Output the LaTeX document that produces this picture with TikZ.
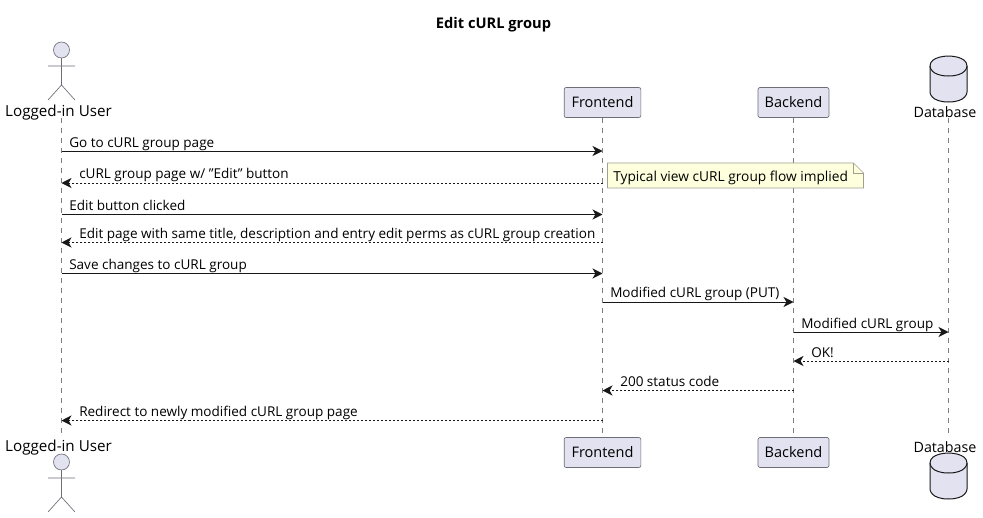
\documentclass[tikz,border=0pt]{standalone}
\usepackage{fontspec}
\setmainfont{Open Sans}
\usetikzlibrary{arrows.meta}
\definecolor{partfill}{HTML}{E2E2F0}
\definecolor{partline}{HTML}{6E6E78}
\definecolor{notefill}{HTML}{FEFFDD}
\definecolor{noteline}{HTML}{A0A090}
\definecolor{inkline}{HTML}{181818}
\tikzset{
  x=0.75pt,y=-0.75pt,
  lifeline/.style={draw=partline!90,line width=0.6pt,dash pattern=on 3.75pt off 3.75pt},
  actorbody/.style={draw=partline,line width=0.5pt},
  actorhead/.style={draw=partline,fill=partfill,line width=0.5pt},
  dbshape/.style={draw=inkline,fill=partfill,line width=0.75pt},
  partbox/.style={draw=partline,fill=partfill,rounded corners=1.5pt,line width=0.5pt,minimum width=#1,minimum height=22.5pt,inner sep=0pt,font=\fontsize{10.9}{13}\selectfont},
  partname/.style={inner sep=0pt,font=\fontsize{11.4}{13}\selectfont},
  dbname/.style={inner sep=0pt,font=\fontsize{10.7}{13}\selectfont},
  sync/.style={draw=inkline,line width=0.75pt,-{Stealth[length=7.5pt,width=7.5pt,inset=2.2pt]}},
  reply/.style={draw=inkline,line width=0.6pt,dash pattern=on 1.5pt off 1.5pt,-{Stealth[length=7.5pt,width=7.5pt,inset=2.2pt,line width=0.6pt]}},
  msglabel/.style={anchor=base west,inner sep=0pt,font=\fontsize{10.15}{12}\selectfont},
}
\begin{document}
\begin{tikzpicture}
\useasboundingbox[fill=white] (0,0) rectangle (983,518);
\node[inner sep=0pt,font=\fontsize{11}{13}\selectfont\bfseries] (title) at (493.5,25) {Edit cURL group};

% participants, top and bottom
\node[partname] (userT) at (58.5,112.5) {Logged-in User};
\node[partname] (userB) at (58.5,447.5) {Logged-in User};
\node[partbox=57.5pt] (frontT) at (602.5,102.5) {Frontend};
\node[partbox=57.5pt] (frontB) at (602.5,452.5) {Frontend};
\node[partbox=53.25pt] (backT) at (793.5,102.5) {Backend};
\node[partbox=53.25pt] (backB) at (793.5,452.5) {Backend};
\node[dbname] (dbT) at (945,112) {Database};
\node[dbname] (dbB) at (945,447) {Database};

% lifeline anchors
\coordinate (uTop) at (61.5,118); \coordinate (uBot) at (61.5,435);
\coordinate (fTop) at (602.5,118); \coordinate (fBot) at (602.5,437);
\coordinate (bTop) at (793.5,118); \coordinate (bBot) at (793.5,437);
\coordinate (dTop) at (948.5,118); \coordinate (dBot) at (948.5,435);

\draw[lifeline] (uTop) -- (uBot);
\draw[lifeline] (fTop) -- (fBot);
\draw[lifeline] (bTop) -- (bBot);
\draw[lifeline] (dTop) -- (dBot);

% actors
\foreach \cy in {50,462}{
  \draw[actorhead] (61.5,\cy) circle (8);
  \draw[actorbody] (61.5,\cy+8) -- (61.5,\cy+35) (48,\cy+16) -- (75,\cy+16)
    (48,\cy+50) -- (61.5,\cy+35) -- (75,\cy+50);
}

% databases
\foreach \ty in {56,453}{
  \draw[dbshape] (930,\ty+10) .. controls (930,\ty) and (948.5,\ty) .. (948.5,\ty)
    .. controls (948.5,\ty) and (967,\ty) .. (967,\ty+10)
    -- (967,\ty+36) .. controls (967,\ty+36) and (967,\ty+46) .. (948.5,\ty+46)
    .. controls (930,\ty+46) and (930,\ty+36) .. (930,\ty+36) -- cycle;
  \draw[dbshape,fill=none] (930,\ty+10) .. controls (930,\ty+10) and (930,\ty+20) .. (948.5,\ty+20)
    .. controls (967,\ty+20) and (967,\ty+10) .. (967,\ty+10);
}

% message rows
\coordinate (m1) at (0,151);
\coordinate (m2) at (0,183);
\coordinate (m3) at (0,214.5);
\coordinate (m4) at (0,242.5);
\coordinate (m5) at (0,273.5);
\coordinate (m6) at (0,302);
\coordinate (m7) at (0,332);
\coordinate (m8) at (0,361);
\coordinate (m9) at (0,390.5);
\coordinate (m10) at (0,420.5);

\draw[sync] (uTop |- m1) -- (fTop |- m1);
\draw[reply] (fTop |- m2) -- (uTop |- m2);
\draw[sync] (uTop |- m3) -- (fTop |- m3);
\draw[reply] (fTop |- m4) -- (uTop |- m4);
\draw[sync] (uTop |- m5) -- (fTop |- m5);
\draw[sync] (fTop |- m6) -- (bTop |- m6);
\draw[sync] (bTop |- m7) -- (dTop |- m7);
\draw[reply] (dTop |- m8) -- (bTop |- m8);
\draw[reply] (bTop |- m9) -- (fTop |- m9);
\draw[reply] (fTop |- m10) -- (uTop |- m10);

\node[msglabel] (l1) at (69,147) {Go to cURL group page};
\node[msglabel] (l2) at (79,178) {cURL group page w/ "Edit" button};
\node[msglabel] (l3) at (69,210) {Edit button clicked};
\node[msglabel] (l4) at (79,238) {Edit page with same title, description and entry edit perms as cURL group creation};
\node[msglabel] (l5) at (69,269) {Save changes to cURL group};
\node[msglabel] (l6) at (610,297.5) {Modified cURL group (PUT)};
\node[msglabel] (l7) at (801,328) {Modified cURL group};
\node[msglabel] (l8) at (811,357) {OK!};
\node[msglabel] (l9) at (620,386) {200 status code};
\node[msglabel] (l10) at (79,416) {Redirect to newly modified cURL group page};

% note
\draw[draw=noteline,fill=notefill,line width=0.5pt] (607.5,163) -- (853.5,163) -- (863.5,173) -- (863.5,188) -- (607.5,188) -- cycle;
\draw[draw=noteline,line width=0.5pt] (853.5,163) -- (853.5,173) -- (863.5,173);
\node[msglabel,font=\fontsize{10.3}{12}\selectfont] (note) at (613,181) {Typical view cURL group flow implied};
\end{tikzpicture}
\end{document}
